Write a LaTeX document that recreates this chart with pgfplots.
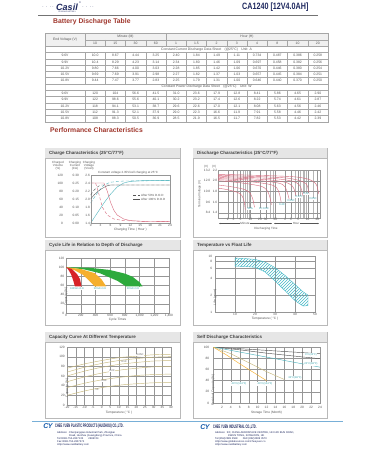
\documentclass[border=0pt]{standalone}
\usepackage{fontspec}
\setmainfont{Liberation Sans}
\usepackage{graphicx}
\usepackage{pgfplots}
\pgfplotsset{compat=1.18}
\usetikzlibrary{patterns,arrows.meta}
\definecolor{titlered}{RGB}{160,55,45}
\definecolor{navy}{RGB}{30,40,95}
\definecolor{gridc}{RGB}{150,150,150}
\definecolor{txt}{RGB}{85,85,85}
\definecolor{boxc}{RGB}{185,185,185}
\definecolor{barc}{RGB}{230,230,230}
\definecolor{pinkc}{RGB}{215,105,125}
\definecolor{tealc}{RGB}{80,180,190}
\definecolor{lblc}{RGB}{50,160,170}
\definecolor{redb}{RGB}{215,35,40}
\definecolor{orab}{RGB}{245,175,45}
\definecolor{greb}{RGB}{45,170,60}
\definecolor{cyanb}{RGB}{70,185,200}
\definecolor{khaki}{RGB}{200,185,125}
\definecolor{footblue}{RGB}{120,175,215}
\definecolor{logoblue}{RGB}{20,90,170}
\newcommand\fs[1]{\fontsize{#1}{#1}\selectfont}
\newcommand\chartbox[5]{%
  \draw[boxc, line width=0.4pt, fill=white] (#1,#2) rectangle (#3,#4);
  \fill[barc] (#1,#2) rectangle (#3,{#2+10.5});
  \draw[boxc, line width=0.4pt] (#1,{#2+10.5})--(#3,{#2+10.5});
  \node[anchor=west, font=\fs{4.5}\bfseries, text=black!75, inner sep=0pt] at ({#1+4},{#2+5.5}) {#5};}
\pgfplotsset{
  chart/.style={scale only axis, anchor=south west,
    /pgf/number format/assume math mode=true,
    axis line style={gridc, line width=0.35pt},
    major grid style={gridc, line width=0.3pt},
    tick style={draw=none},
    tick label style={font=\fs{3.2}, text=txt, inner sep=0.6pt},
    label style={font=\fs{3.2}, text=txt, inner sep=0pt},
    xlabel style={at={(axis description cs:0.5,0)}, anchor=center},
    ylabel style={at={(axis description cs:0,0.5)}, anchor=center},
    clip=true},
}
\begin{document}
\begin{tikzpicture}[x=1pt,y=-1pt]
\fill[white] (0,0) rectangle (375,450);
\path[use as bounding box] (0,0) rectangle (375,450);
% ---------- header ----------
\node[font=\fs{4}, text=navy, inner sep=0pt] at (48,7.5) {$\cdot\cdot\cdot\cdot$};
\node[font=\fs{4}, text=navy, inner sep=0pt] at (88,7.5) {$\cdot\cdot\cdot\cdot$};
\node[font=\fs{9}\bfseries\itshape, text=navy, inner sep=0pt] at (67,7) {Casil};
\node[font=\fs{2.5}, text=navy, inner sep=0pt] at (80,2.3) {\textregistered};
\node[font=\fs{1.8}, text=navy, inner sep=0pt] at (67,12) {STORAGE BATTERY};
\node[font=\fs{9.2}\bfseries, text=navy, anchor=west, inner sep=0pt] at (242,7.6) {\scalebox{0.78}[1]{CA1240 [12V4.0AH]}};
\draw[black!55, line width=0.4pt] (38,15.5) -- (318,15.5);
\node[font=\fs{6.8}\bfseries, text=titlered, anchor=west, inner sep=0pt] at (53,22) {Battery Discharge Table};
% ---------- table ----------
\fill[black!6] (45,33.5) rectangle (328,46.1);
\draw[black!35, line width=0.3pt] (45,33.5) rectangle (328,121.7);
\foreach \k in {1,...,13} {
  \pgfmathsetmacro\yy{33.5+6.3*\k}
  \ifnum\k=1 \draw[black!35, line width=0.3pt] (85,\yy) -- (328,\yy);
  \else \draw[black!35, line width=0.3pt] (45,\yy) -- (328,\yy); \fi
}
\draw[black!35, line width=0.3pt] (85,33.5) -- (85,46.1);
\draw[black!35, line width=0.3pt] (166,33.5) -- (166,46.1);
\foreach \c in {1,...,11} {
  \pgfmathsetmacro\xx{85+20.25*\c}
  \draw[black!35, line width=0.3pt] (\xx,39.8) -- (\xx,46.1);
}
\foreach \ya/\yb in {52.4/83.9, 90.2/121.7} {
  \draw[black!35, line width=0.3pt] (85,\ya) -- (85,\yb);
  \foreach \c in {1,...,11} {
    \pgfmathsetmacro\xx{85+20.25*\c}
    \draw[black!35, line width=0.3pt] (\xx,\ya) -- (\xx,\yb);
  }
}
\begin{scope}[every node/.style={font=\fs{3.4}, text=txt, inner sep=0pt}]
\node at (65,39.8) {End Voltage (V)};
\node at (125.5,36.65) {Minute (M)};
\node at (247,36.65) {Hour (H)};
\foreach \h [count=\c] in {10,15,30,60,1,1.5,2,3,4,8,10,20} {
  \pgfmathsetmacro\xx{85+20.25*(\c-0.5)}
  \node at (\xx,42.95) {\h};
}
\node at (206.5,49.25) {Constant Current Discharge Data Sheet\quad(@25°C)\quad Unit: A};
\node at (206.5,87.05) {Constant Power Discharge Data Sheet\quad(@25°C)\quad Unit: W};
\foreach \lab/\vals [count=\r] in {
  9.6V/{10.0,8.67,4.44,3.25,2.40,1.84,1.49,1.11,0.734,0.487,0.386,0.258},
  9.9V/{10.4,8.29,4.23,3.14,2.34,1.80,1.46,1.09,0.697,0.458,0.382,0.256},
  10.2V/{9.80,7.66,4.00,3.03,2.28,1.85,1.42,1.06,0.670,0.446,0.380,0.254},
  10.5V/{9.69,7.69,3.91,2.98,2.27,1.82,1.37,1.03,0.657,0.445,0.384,0.251},
  10.8V/{9.44,7.47,3.77,2.83,2.25,1.79,1.31,1.00,0.646,0.440,0.370,0.250}} {
  \pgfmathsetmacro\yy{33.5+6.3*(\r+2.5)}
  \node at (65,\yy) {\lab};
  \foreach \v [count=\c] in \vals {
    \pgfmathsetmacro\xx{85+20.25*(\c-0.5)}
    \node at (\xx,\yy) {\v};
  }
}
\foreach \lab/\vals [count=\r] in {
  9.6V/{120,104,56.6,41.5,31.0,23.6,17.9,12.8,8.41,5.86,4.65,2.90},
  9.9V/{122,98.6,55.6,40.1,30.2,23.2,17.4,12.6,8.22,5.74,4.61,2.87},
  10.2V/{118,94.1,53.1,38.7,29.6,22.6,17.0,12.1,8.08,5.63,4.56,2.46},
  10.5V/{112,91.3,52.1,37.9,29.0,22.3,16.6,11.9,7.91,5.58,4.46,2.42},
  10.8V/{108,88.3,50.5,36.9,28.5,21.9,16.5,11.7,7.82,5.53,4.42,2.39}} {
  \pgfmathsetmacro\yy{33.5+6.3*(\r+8.5)}
  \node at (65,\yy) {\lab};
  \foreach \v [count=\c] in \vals {
    \pgfmathsetmacro\xx{85+20.25*(\c-0.5)}
    \node at (\xx,\yy) {\v};
  }
}
\end{scope}
\node[font=\fs{6.8}\bfseries, text=titlered, anchor=west, inner sep=0pt] at (50,130) {Performance Characteristics};
% ---------- boxes ----------
\chartbox{45}{148}{180}{237}{Charge Characteristics (25°C/77°F)}
\chartbox{193}{148}{327}{237}{Discharge Characteristics (25°C/77°F)}
\chartbox{45}{240}{180}{325}{Cycle Life in Relation to Depth of Discharge}
\chartbox{193}{240}{327}{325}{Temperature vs Float Life}
\chartbox{45}{332}{180}{418}{Capacity Curve At Different Temperature}
\chartbox{193}{332}{327}{418}{Self Discharge Characteristics}
% ---------- chart 1: charge ----------
\begin{axis}[chart, at={(90.7pt,-223pt)}, width=79.3pt, height=48pt,
  xmin=0, xmax=24, xtick={0,3,...,24}, ymin=0, ymax=120, ytick={0,20,...,120},
  yticklabel style={xshift=-27pt},
  xlabel={Charging Time ( Hour )}, xlabel style={yshift=-7pt}]
\addplot[tealc, line width=0.4pt] coordinates {(0,0) (2,25) (4,50) (6,72) (8,90) (10,100) (12,104) (16,106) (24,106)};
\addplot[tealc, line width=0.4pt, densely dashed] coordinates {(0,50) (2,75) (4,95) (6,102) (10,105) (24,106)};
\end{axis}
\begin{axis}[chart, at={(90.7pt,-223pt)}, width=79.3pt, height=48pt,
  xmin=0, xmax=24, hide x axis, axis y line*=left, y axis line style={draw=none},
  ymin=0, ymax=0.30, ytick={0,0.05,...,0.30}, yticklabel style={xshift=-11pt, /pgf/number format/.cd, fixed, fixed zerofill, precision=2}]
\addplot[pinkc, line width=0.4pt] coordinates {(0,0.25) (4,0.25) (5,0.2) (6,0.13) (7,0.08) (8,0.05) (10,0.025) (12,0.015) (16,0.01) (24,0.008)};
\addplot[pinkc, line width=0.4pt, densely dashed] coordinates {(0,0.25) (1.5,0.25) (2.5,0.18) (3.5,0.1) (5,0.05) (7,0.025) (10,0.015) (16,0.01) (24,0.008)};
\end{axis}
\begin{axis}[chart, at={(90.7pt,-223pt)}, width=79.3pt, height=48pt,
  xmin=0, xmax=24, hide x axis, axis y line*=left,
  ymin=1.4, ymax=2.6, ytick={1.4,1.6,...,2.6}, yticklabel style={/pgf/number format/.cd, fixed, fixed zerofill, precision=1}]
\addplot[black!60, line width=0.4pt] coordinates {(0,2.0) (1,2.1) (2,2.18) (3,2.24) (4,2.29) (5,2.33) (6,2.35) (24,2.35)};
\addplot[black!60, line width=0.4pt, densely dashed] coordinates {(0,2.1) (1,2.22) (2,2.3) (3,2.35) (24,2.35)};
\end{axis}
\begin{scope}[every node/.style={font=\fs{3}, text=txt, inner sep=0pt, align=center}]
\node at (58,165.5) {Charged\\Volume\\(\%)};
\node at (75,165.5) {Charging\\Current\\(CA)};
\node at (89,165.5) {Charging\\Voltage\\(V/cell)};
\node[anchor=west] at (98,172.5) {Constant voltage 2.35V/cell charging at 25°C};
\draw[txt, line width=0.3pt, densely dashed] (133,195) -- (140,195); \node[anchor=west] at (141,195) {After 50\% D.O.D};
\draw[txt, line width=0.3pt] (133,199) -- (140,199); \node[anchor=west] at (141,199) {After 100\% D.O.D};
\end{scope}
% ---------- chart 2: discharge ----------
\begin{axis}[chart, at={(218pt,-218pt)}, width=102pt, height=48pt,
  xmode=log, xmin=1, xmax=1440, ymin=1.3, ymax=2.2,
  xtick={2,3,5,10,20,30,60,120,180,300,600,1200},
  xticklabels={2,3,5,10,20,30,60,2,3,5,10,20},
  minor xtick={4,6,7,8,9,40,50,240,360,420,480,540,900},
  ytick={1.4,1.6,1.8,2.0,2.2}, yticklabel style={/pgf/number format/.cd, fixed, fixed zerofill, precision=1},
  grid=both, minor grid style={gridc!70, line width=0.25pt}, log basis x=10,
  xticklabel style={yshift=0.5pt}]
\foreach \pts in {
  {(1,1.86) (2,1.83) (4,1.78) (5.5,1.72) (6.5,1.6) (7,1.45)},
  {(1,1.92) (3,1.88) (7,1.83) (10,1.76) (12,1.65) (13.5,1.5)},
  {(1,2.0) (5,1.96) (20,1.9) (32,1.83) (40,1.7) (45,1.55)},
  {(1,2.02) (10,1.98) (40,1.93) (65,1.87) (80,1.75) (90,1.6)},
  {(1,2.04) (20,2.0) (80,1.95) (120,1.88) (145,1.75) (160,1.65)},
  {(1,2.06) (30,2.02) (120,1.97) (200,1.9) (240,1.8) (265,1.7)},
  {(1,2.08) (50,2.04) (200,1.99) (330,1.92) (390,1.82) (420,1.72)},
  {(1,2.1) (80,2.06) (300,2.01) (540,1.94) (620,1.84) (660,1.75)},
  {(1,2.12) (150,2.08) (600,2.03) (1050,1.95) (1220,1.85) (1300,1.75)}} {
  \addplot[pinkc, line width=0.4pt, smooth] coordinates \pts;
}
\end{axis}
\begin{axis}[chart, at={(218pt,-218pt)}, width=102pt, height=48pt,
  xmode=log, xmin=1, xmax=1440, hide x axis, axis y line*=left, y axis line style={draw=none},
  ymin=7.8, ymax=13.2, ytick={8.4,9.6,10.8,12.0,13.2}, yticklabel style={xshift=-7pt, /pgf/number format/.cd, fixed, fixed zerofill, precision=1}]
\addplot[draw=none] coordinates {(1,8)};
\end{axis}
\begin{scope}[every node/.style={font=\fs{3}, text=txt, inner sep=0pt}]
\node at (206,166.5) {(V)}; \node at (214,166.5) {(V)};
\node[rotate=90] at (199.5,194) {Terminal Voltage (V)};
\draw[txt, line width=0.3pt, {Stealth[length=1.5pt]}-{Stealth[length=1.5pt]}] (219,223.5) -- (272,223.5);
\draw[txt, line width=0.3pt, {Stealth[length=1.5pt]}-{Stealth[length=1.5pt]}] (274,223.5) -- (319,223.5);
\node[fill=white, inner sep=0.5pt] at (245,223.5) {Minute};
\node[fill=white, inner sep=0.5pt] at (296,223.5) {Hour};
\node at (266,228.5) {Discharging Time};
\end{scope}
\begin{scope}[every node/.style={font=\fs{2.8}, text=lblc, inner sep=0.3pt, fill=white}]
\node at (250,209) {3CA};
\node at (264,209) {1C\,0.6C};
\node at (282,205) {0.4C};
\node at (291,201) {0.25C};
\node at (299,197) {0.17C};
\node at (306,194) {0.1C};
\node at (313,199) {0.05C};
\end{scope}
% ---------- chart 3: cycle life ----------
\begin{axis}[chart, at={(66pt,-313pt)}, width=103pt, height=55pt,
  xmin=0, xmax=1400, xtick={0,200,...,1400}, ymin=0, ymax=120, ytick={0,20,...,120},
  grid=major, xlabel={Cycle Times}, ylabel={Capacity (\%)},
  xlabel style={yshift=-6.5pt}, ylabel style={xshift=-11pt}, yticklabel style={xshift=-1pt}]
\addplot[fill=greb, draw=none] coordinates {(0,100) (300,99) (592,94) (800,86) (906,79) (1000,67) (1040,58) (817,58) (700,70) (458,87) (250,95) (0,100)} -- cycle;
\addplot[fill=orab, draw=none] coordinates {(0,100) (200,96) (390,87) (480,74) (548,58) (390,58) (310,71) (233,83) (120,93) (0,100)} -- cycle;
\addplot[fill=redb, draw=none] coordinates {(0,100) (80,96) (150,85) (190,74) (211,58) (121,58) (100,70) (70,84) (30,95) (0,100)} -- cycle;
\end{axis}
\begin{scope}[every node/.style={font=\fs{2.6}, text=lblc, inner sep=0.4pt, fill=white}]
\node at (77,288.5) {100\%D.O.D};
\node at (100,288.5) {50\%D.O.D};
\node at (133,288.5) {30\%D.O.D};
\end{scope}
% ---------- chart 4: float life ----------
\begin{axis}[chart, at={(215pt,-312pt)}, width=100pt, height=56pt,
  xmin=0, xmax=50, xtick={0,10,...,50}, xticklabels={,10,20,30,40,50},
  ymode=log, ymin=1, ymax=10, ytick={1,2,4,6,8,10}, yticklabels={1,2,4,6,8,10},
  grid=major, xlabel={Temperature ( °C )}, ylabel={Life (years)},
  xlabel style={yshift=-7pt}, ylabel style={xshift=-13pt}, yticklabel style={xshift=-2pt}]
\addplot[pattern=north east lines, pattern color=cyanb, draw=cyanb, line width=0.4pt] coordinates {
  (10,9.2) (15,9.0) (20,8.7) (25,7.8) (30,6.2) (35,4.5) (40,3.1) (44,2.3) (46.5,2.0)
  (46.5,1.3) (44,1.28) (40,1.6) (35,2.4) (30,3.6) (25,5.2) (20,6.3) (15,6.5) (10,6.6)} -- cycle;
\end{axis}
% ---------- chart 5: capacity vs temperature ----------
\begin{axis}[chart, at={(67pt,-405pt)}, width=104pt, height=58pt,
  xmin=-20, xmax=40, xtick={-20,-15,...,40}, ymin=0, ymax=120, ytick={0,20,...,120},
  grid=major, xlabel={Temperature ( °C )}, ylabel={Capacity (\%)},
  xlabel style={yshift=-8pt}, ylabel style={xshift=-12pt}, yticklabel style={xshift=-1.5pt}, xticklabel style={yshift=-0.8pt}]
\foreach \pts in {
  {(-20,76) (-10,85) (0,92) (10,98) (20,101) (30,104) (40,105)},
  {(-20,68) (-10,78) (0,86) (10,92) (20,96) (30,99) (40,100)},
  {(-20,60) (-10,70) (0,78) (10,84) (20,88) (30,91) (40,92)},
  {(-20,48) (-10,58) (0,66) (10,72) (20,76) (30,79) (40,80)},
  {(-20,36) (-10,45) (0,52) (10,57) (20,61) (30,63) (40,64)},
  {(-20,20) (-10,29) (0,36) (10,41) (20,44) (30,46) (40,47)}} {
  \addplot[khaki, line width=0.45pt, smooth] coordinates \pts;
}
\end{axis}
\begin{scope}[every node/.style={font=\fs{2.6}, text=txt, inner sep=0.3pt, fill=white}]
\node at (140,355) {0.05C};
\node at (124,362) {0.1C};
\node at (112,371) {0.2C};
\node at (104,381) {0.6C};
\node at (97,390) {1C};
\end{scope}
% ---------- chart 6: self discharge ----------
\begin{axis}[chart, at={(213pt,-403pt)}, width=107pt, height=56pt,
  xmin=0, xmax=24, xtick={2,4,...,24}, ymin=0, ymax=100, ytick={0,20,...,100},
  grid=major, xlabel={Storage Time (Month)}, ylabel={Residual Capacity (\%)},
  xlabel style={yshift=-10pt}, ylabel style={xshift=-15pt}, yticklabel style={xshift=-3pt}, xticklabel style={yshift=-2.5pt}]
\addplot[black!65, line width=0.45pt] coordinates {(0,100) (6,97) (12,94) (18,91) (24,88)};
\addplot[black!65, line width=0.45pt] coordinates {(0,100) (6,95) (12,89) (18,84) (24,79)};
\addplot[tealc, line width=0.45pt] coordinates {(0,100) (6,91) (12,82) (18,73) (24,64)};
\addplot[khaki, line width=0.45pt] coordinates {(0,100) (4,88) (8,72) (12,56) (16,42)};
\addplot[orab, line width=0.45pt] coordinates {(0,100) (3,86) (6,70) (9,55) (12,40)};
\end{axis}
\begin{scope}[every node/.style={font=\fs{2.6}, text=lblc, inner sep=0.3pt, fill=white}]
\node at (311,355) {0°C(32°F)};
\node at (311,364) {20°C(68°F)};
\node at (295,378) {30°C(86°F)};
\node at (265,384) {40°C(104°F)};
\node at (239,384) {40°C(104°F)};
\end{scope}
% ---------- footer ----------
\draw[footblue, line width=0.6pt] (32,421.5) -- (343,421.5);
\node[font=\fs{7}\bfseries\itshape, text=logoblue, inner sep=0pt] at (48,426.5) {C\kern-0.5ptY};
\node[font=\fs{5}\bfseries, text=navy, anchor=west, inner sep=0pt] at (55,426.5) {\scalebox{0.52}[1]{CHEE YUEN PLASTIC PRODUCTS (HUIZHOU) CO.,LTD.}};
\begin{scope}[every node/.style={font=\fs{2.6}, text=navy, anchor=west, inner sep=0pt}]
\node at (57,432.5) {Address:\ \ Chenjiangqiao Industrial Park, Zhongkai};
\node at (69,435.5) {Road, Huizhou (Guangdong) Province, China};
\node at (57,438.8) {Tel:0086-752-2627135\qquad 2686744};
\node at (57,441.8) {Fax:0086-752-2607374};
\node at (57,444.8) {Http://www.casilbattery.com};
\end{scope}
\node[font=\fs{7}\bfseries\itshape, text=logoblue, inner sep=0pt] at (205,427.5) {C\kern-0.5ptY};
\node[font=\fs{5}\bfseries, text=navy, anchor=west, inner sep=0pt] at (213,427.5) {\scalebox{0.52}[1]{CHEE YUEN INDUSTRIAL CO.,LTD.}};
\begin{scope}[every node/.style={font=\fs{2.6}, text=navy, anchor=west, inner sep=0pt}]
\node at (215,433) {Address:\ \ 5/F, CHINA AEROSPACE CENTRE, 143 HOI BUN ROAD,};
\node at (228,435.8) {KWUN TONG, KOWLOON, HK};
\node at (215,438.8) {Tel:(852)2389 2568\qquad FAX:(852)2389 3570};
\node at (215,441.8) {Http://www.globalsources.com/cheeyuen.co};
\node at (215,444.8) {Http://www.casilbattery.com};
\end{scope}
\end{tikzpicture}
\end{document}
